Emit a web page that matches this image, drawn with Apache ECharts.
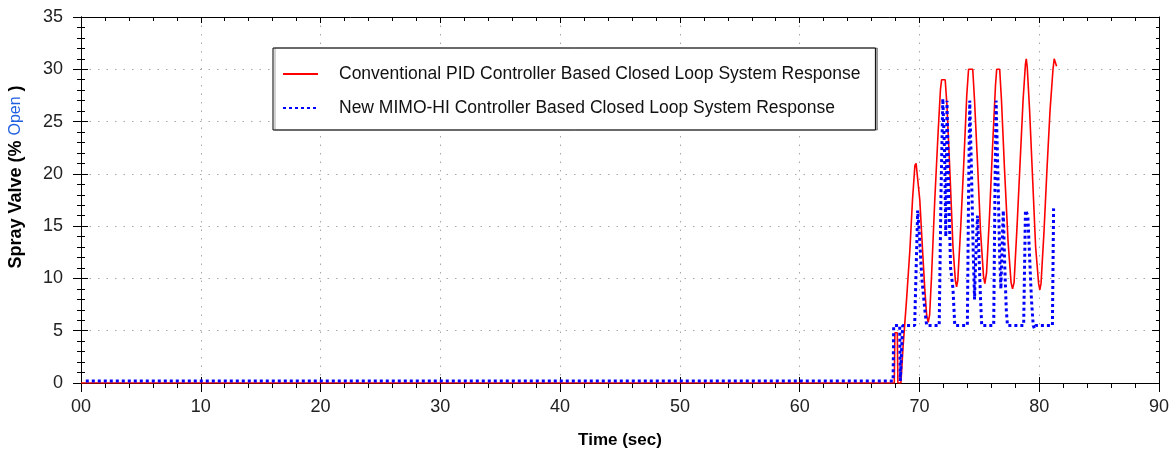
<!DOCTYPE html>
<html>
<head>
<meta charset="utf-8">
<script src="https://cdn.jsdelivr.net/npm/echarts@6/dist/echarts.min.js"></script>
<style>
html,body{margin:0;padding:0;background:#fff;}
#chart{width:1171px;height:450px;}
</style>
</head>
<body>
<div id="chart"></div>
<script>
// ---- data ----
const xTicks = [0, 10, 20, 30, 40, 50, 60, 70, 80, 90];
const yTicks = [0, 5, 10, 15, 20, 25, 30, 35];
const seriesNames = [
  'Conventional PID Controller Based Closed Loop System Response',
  'New MIMO-HI Controller Based Closed Loop System Response'
];
const pidTime = [0, 67.9, 67.95, 68.15, 68.2, 68.45, 68.64, 68.92, 69.2, 69.42, 69.62, 69.72, 69.85, 70.03, 70.26, 70.45, 70.6, 70.73, 70.85, 71.0, 71.28, 71.56, 71.75, 71.85, 72.15, 72.3, 72.55, 72.8, 73.0, 73.1, 73.2, 73.45, 73.7, 73.95, 74.1, 74.45, 74.6, 74.85, 75.1, 75.35, 75.46, 75.6, 75.85, 76.1, 76.35, 76.45, 76.7, 76.85, 77.1, 77.4, 77.65, 77.77, 77.9, 78.15, 78.4, 78.65, 78.85, 78.92, 79.0, 79.2, 79.45, 79.7, 79.95, 80.05, 80.15, 80.4, 80.65, 80.9, 81.15, 81.25, 81.32, 81.45];
const pidValue = [0, 0, 4.8, 4.8, 0, 0, 3.6, 7.9, 12.7, 17.5, 20.8, 21, 21, 17.5, 12.7, 8.9, 6.5, 5.8, 6.5, 10, 17.5, 24, 28, 29, 29, 26.5, 20, 13, 9.8, 9.2, 9.8, 15, 21, 27.5, 30, 30, 27, 21, 14.5, 10.2, 9.5, 10.5, 16, 22.5, 28.5, 30, 30, 27, 20.5, 13.5, 9.6, 9.0, 9.6, 15, 21, 27, 30.5, 31, 30.2, 26, 19.5, 13, 9.5, 8.9, 9.5, 14.5, 20.5, 26, 30, 31, 31, 30.3];
const mimoTime = [0.4, 67.8, 67.85, 68.35, 68.4, 68.55, 68.6, 69.6, 69.75, 69.85, 69.95, 70.2, 70.45, 70.6, 71.65, 71.8, 71.95, 72.1, 72.2, 72.3, 72.45, 72.6, 72.8, 72.95, 74.0, 74.1, 74.2, 74.35, 74.5, 74.6, 74.7, 74.85, 74.95, 75.1, 75.2, 76.2, 76.3, 76.4, 76.55, 76.7, 76.8, 76.9, 77.0, 77.1, 77.25, 77.35, 78.7, 78.85, 79.05, 79.2, 79.35, 79.5, 79.6, 79.7, 81.1, 81.2];
const mimoValue = [0.2, 0.2, 5.5, 5.5, 0.2, 0.2, 5.5, 5.5, 12, 16.5, 15, 10, 7, 5.5, 5.5, 18, 27.2, 22, 14, 27, 18, 11, 9, 5.5, 5.5, 18, 27, 20, 12, 8, 12, 16, 13, 8, 5.5, 5.5, 18, 27, 20, 12, 9, 13, 16.5, 12, 7, 5.5, 5.5, 16.5, 16, 12, 8, 5.5, 5.2, 5.5, 5.5, 16.7];

const zip = (a, b) => a.map((v, i) => [v, b[i]]);

const FONT = 'Arial, "Liberation Sans", sans-serif';
const AX = '#000';
const gridDot = { show: true, lineStyle: { color: '#a8a8a8', width: 1, type: [1.5, 7] } };

function xAx(extra) {
  return Object.assign({
    type: 'value', min: xTicks[0], max: xTicks[xTicks.length - 1], interval: 10,
    axisLine: { show: true, onZero: false, lineStyle: { color: AX, width: 1 } },
    axisLabel: { show: false },
    splitLine: { show: false },
    minorSplitLine: { show: false }
  }, extra);
}
function yAx(extra) {
  return Object.assign({
    type: 'value', min: yTicks[0], max: yTicks[yTicks.length - 1], interval: 5,
    axisLine: { show: true, onZero: false, lineStyle: { color: AX, width: 1 } },
    axisLabel: { show: false },
    splitLine: { show: false },
    minorSplitLine: { show: false }
  }, extra);
}

const chart = echarts.init(document.getElementById('chart'), null, { renderer: 'canvas' });
chart.setOption({
  animation: false,
  backgroundColor: '#fff',
  grid: { left: 81, right: 12, top: 17, bottom: 67, containLabel: false, outerBoundsMode: 'none' },
  legend: {
    orient: 'vertical',
    left: 273, top: 48,
    padding: [17, 15, 13, 9],
    itemWidth: 35, itemHeight: 14, itemGap: 16,
    backgroundColor: '#fff',
    borderColor: '#000', borderWidth: 1,
    shadowColor: 'rgba(0,0,0,0.35)', shadowOffsetX: 2, shadowOffsetY: 0, shadowBlur: 0,
    itemStyle: { opacity: 0 },
    textStyle: { fontFamily: FONT, fontSize: 17.5, color: '#111', padding: [0, 0, 0, 16] },
    data: seriesNames
  },
  xAxis: [
    xAx({
      position: 'bottom',
      name: 'Time (sec)', nameLocation: 'middle', nameGap: 49,
      nameTextStyle: { fontFamily: FONT, fontSize: 17, fontWeight: 'bold', color: '#000' },
      axisTick: { show: true, inside: false, length: 9, lineStyle: { color: AX } },
      minorTick: { show: true, splitNumber: 5, length: 5, lineStyle: { color: AX } },
      axisLabel: { show: true, margin: 15, fontFamily: FONT, fontSize: 18, color: '#222',
        formatter: v => (v === 0 ? '00' : String(v)) },
      splitLine: gridDot
    }),
    xAx({ position: 'bottom', axisTick: { show: true, inside: true, length: 6, lineStyle: { color: AX } } }),
    xAx({ position: 'top',
      axisTick: { show: true, inside: true, length: 6, lineStyle: { color: AX } },
      minorTick: { show: true, splitNumber: 5, length: 4, lineStyle: { color: AX } } })
  ],
  yAxis: [
    yAx({
      position: 'left',
      name: '{b|Spray Valve (% }{o|Open}{b| )}', nameLocation: 'middle', nameGap: 56, nameRotate: 90,
      nameTextStyle: {
        padding: [0, 0, 0, 46],
        rich: {
          b: { fontFamily: FONT, fontSize: 18, fontWeight: 'bold', color: '#000' },
          o: { fontFamily: FONT, fontSize: 16, color: '#1f5fe0' }
        }
      },
      axisTick: { show: true, inside: false, length: 8, lineStyle: { color: AX } },
      minorTick: { show: true, splitNumber: 5, length: 4, lineStyle: { color: AX } },
      axisLabel: { show: true, margin: 18, fontFamily: FONT, fontSize: 18, color: '#222' },
      splitLine: gridDot
    }),
    yAx({ position: 'left',
      axisTick: { show: true, inside: true, length: 7, lineStyle: { color: AX } },
      minorTick: { show: true, splitNumber: 5, length: 4, lineStyle: { color: AX } } }),
    yAx({ position: 'right',
      axisTick: { show: true, inside: true, length: 7, lineStyle: { color: AX } },
      minorTick: { show: true, splitNumber: 5, length: 3, lineStyle: { color: AX } } })
  ],
  series: [
    {
      name: seriesNames[0], type: 'line', xAxisIndex: 0, yAxisIndex: 0,
      data: zip(pidTime, pidValue), showSymbol: false, symbol: 'none', z: 3,
      color: '#ff0000',
      lineStyle: { color: '#ff0000', width: 1.6 }
    },
    {
      name: seriesNames[1], type: 'line', xAxisIndex: 0, yAxisIndex: 0,
      data: zip(mimoTime, mimoValue), showSymbol: false, symbol: 'none', z: 4,
      color: '#0000ff',
      lineStyle: { color: '#0000ff', width: 3, type: [3, 3] }
    }
  ]
});
</script>
</body>
</html>
